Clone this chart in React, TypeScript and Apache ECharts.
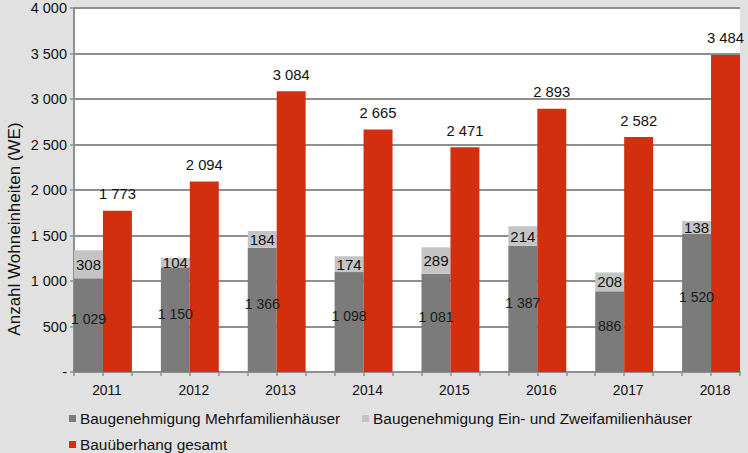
import React, { useEffect, useRef } from "react";
import * as echarts from "echarts";

const years = ["2011", "2012", "2013", "2014", "2015", "2016", "2017", "2018"];
const mehrfamilien = [1029, 1150, 1366, 1098, 1081, 1387, 886, 1520];
const einZwei = [308, 104, 184, 174, 289, 214, 208, 138];
const ueberhang = [1773, 2094, 3084, 2665, 2471, 2893, 2582, 3484];
const seriesNames = [
  "Baugenehmigung Mehrfamilienhäuser",
  "Baugenehmigung Ein- und Zweifamilienhäuser",
  "Bauüberhang gesamt",
];
const yTicks = { min: 0, max: 4000, interval: 500 };

const FONT = "'Liberation Sans', Arial, sans-serif";
const fmt = (v: number) =>
  v === 0 ? "-" : String(v).replace(/\B(?=(\d{3})+(?!\d))/g, " ");

export default function App() {
  const ref = useRef<HTMLDivElement>(null);
  useEffect(() => {
    if (!ref.current) return;
    const chart = echarts.init(ref.current, null, { renderer: "svg" });
    const W = 748;
    const plotLeft = 74;
    const plotRight = 740;
    const slot = (plotRight - plotLeft) / 23;
    const barLeft = plotLeft - 0.5 * slot;
    const barRight = plotRight + 0.5 * slot;
    const top = 8;
    const bottom = 81;
    const slotCats = Array.from({ length: 23 }, (_, i) => "s" + i);
    const gridColor = "#8f8f8f";

    chart.setOption({
      animation: false,
      backgroundColor: "#e1e1e1",
      textStyle: { fontFamily: FONT },
      grid: [
        {
          left: barLeft,
          right: W - barRight,
          top,
          bottom,
          show: false,
          containLabel: false,
          outerBoundsMode: "none",
        },
        {
          left: plotLeft,
          right: W - plotRight,
          top,
          bottom,
          show: true,
          backgroundColor: "#ffffff",
          borderWidth: 0,
          containLabel: false,
          outerBoundsMode: "none",
        },
      ],
      xAxis: [
        {
          type: "category",
          gridIndex: 0,
          data: years,
          axisLine: { show: false },
          axisTick: { show: false },
          axisLabel: {
            color: "#111",
            fontSize: 13.8,
            fontFamily: FONT,
            margin: 11,
            padding: [0, 0, 0, 8],
          },
        },
        {
          type: "category",
          gridIndex: 1,
          data: slotCats,
          boundaryGap: true,
          axisLine: { show: true, lineStyle: { color: gridColor, width: 2 } },
          axisTick: {
            show: true,
            interval: 0,
            length: 4,
            lineStyle: { color: gridColor, width: 1.5 },
          },
          axisLabel: { show: false },
          splitLine: { show: false },
        },
      ],
      yAxis: [
        {
          type: "value",
          gridIndex: 0,
          min: yTicks.min,
          max: yTicks.max,
          interval: yTicks.interval,
          show: false,
          splitLine: { show: false },
        },
        {
          type: "value",
          gridIndex: 1,
          min: yTicks.min,
          max: yTicks.max,
          interval: yTicks.interval,
          axisLine: { show: true, lineStyle: { color: gridColor, width: 2 } },
          axisTick: {
            show: true,
            length: 4,
            lineStyle: { color: gridColor, width: 1.5 },
          },
          axisLabel: {
            color: "#111",
            fontSize: 14.5,
            fontFamily: FONT,
            margin: 7,
            padding: [8, 0, 0, 0],
            formatter: (v: number) => fmt(v),
          },
          splitLine: { show: true, lineStyle: { color: gridColor, width: 2 } },
        },
      ],
      legend: [
        {
          data: [seriesNames[0], seriesNames[1]],
          left: 69,
          top: 411,
          icon: "rect",
          itemWidth: 7,
          itemHeight: 7,
          itemGap: 22,
          padding: 0,
          textStyle: { fontSize: 15.4, color: "#111", fontFamily: FONT, padding: [0, 0, 0, -1] },
        },
        {
          data: [seriesNames[2]],
          left: 69,
          top: 437,
          icon: "rect",
          itemWidth: 7,
          itemHeight: 7,
          padding: 0,
          textStyle: { fontSize: 15.4, color: "#111", fontFamily: FONT, padding: [0, 0, 0, -1] },
        },
      ],
      graphic: [
        {
          type: "text",
          x: 14,
          y: 229,
          rotation: Math.PI / 2,
          style: {
            text: "Anzahl Wohneinheiten (WE)",
            fontSize: 17,
            fontFamily: FONT,
            fill: "#111",
            align: "center",
            verticalAlign: "middle",
          },
        },
      ],
      series: [
        {
          name: seriesNames[0],
          type: "bar",
          xAxisIndex: 0,
          yAxisIndex: 0,
          stack: "genehmigung",
          data: mehrfamilien,
          barWidth: "33.333%",
          barGap: "0%",
          itemStyle: { color: "#7b7b7b" },
          label: {
            show: true,
            position: "inside",
            offset: [0, -6],
            fontSize: 14,
            color: "#1a1a1a",
            fontFamily: FONT,
            formatter: (p: any) => fmt(p.value),
          },
        },
        {
          name: seriesNames[1],
          type: "bar",
          xAxisIndex: 0,
          yAxisIndex: 0,
          stack: "genehmigung",
          data: einZwei,
          barWidth: "33.333%",
          barGap: "0%",
          itemStyle: { color: "#c4c4c4" },
          label: {
            show: true,
            position: "inside",
            fontSize: 15,
            color: "#111",
            fontFamily: FONT,
            formatter: (p: any) => fmt(p.value),
          },
        },
        {
          name: seriesNames[2],
          type: "bar",
          xAxisIndex: 0,
          yAxisIndex: 0,
          data: ueberhang,
          barWidth: "33.333%",
          barGap: "0%",
          itemStyle: { color: "#d32f0f" },
          label: {
            show: true,
            position: "top",
            distance: 9,
            fontSize: 14.8,
            color: "#111",
            fontFamily: FONT,
            formatter: (p: any) => fmt(p.value),
          },
        },
      ],
    });
    return () => chart.dispose();
  }, []);
  return (
    <div
      ref={ref}
      style={{ position: "absolute", left: 0, top: 0, width: 748, height: 453 }}
    />
  );
}
